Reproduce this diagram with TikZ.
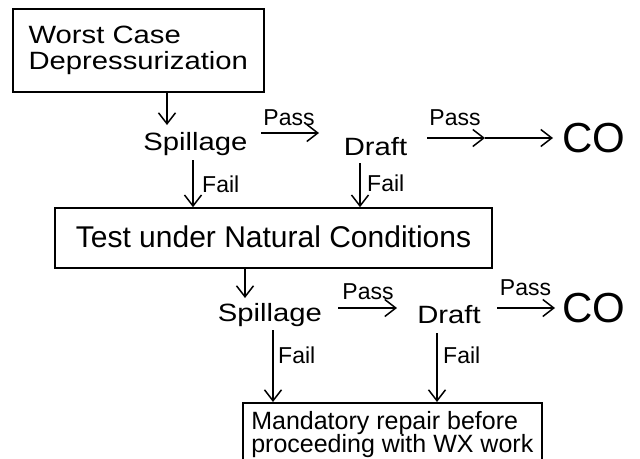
\documentclass[tikz,border=0pt]{standalone}
\usepackage{fontspec}
\setmainfont{Liberation Sans}
\newfontfamily\widefont[FakeStretch=1.17]{Liberation Sans}
\usetikzlibrary{arrows.meta,calc}
\begin{document}
\begin{tikzpicture}[x=1pt,y=-1pt,
  arr/.style={line width=1.5pt,-{Straight Barb[length=11pt,width=17pt,line width=1.5pt]}},
  box/.style={draw,line width=1.6pt,inner sep=0pt},
  lbl/.style={inner sep=0pt,anchor=base,font=\fontsize{23}{23}\selectfont},
  faillbl/.style={inner sep=0pt,anchor=base west,font=\fontsize{23}{23}\selectfont},
  word/.style={inner sep=0pt,anchor=base,font=\widefont\fontsize{25}{26}\selectfont},
  colbl/.style={inner sep=0pt,anchor=base,font=\fontsize{42}{42}\selectfont}]
\useasboundingbox (0,0) rectangle (640,458);
\clip (0,0) rectangle (640,458);
\fill[white] (0,0) rectangle (640,458);

% boxes
\node[box, anchor=north west, minimum width=251pt, minimum height=83pt, align=left,
      font=\widefont\fontsize{25}{26}\selectfont] (wc) at (12,8) {Worst Case\\Depressurization};
\node[box, minimum width=437pt, minimum height=60pt, text height=22pt, text depth=4pt,
      font=\fontsize{30}{30}\selectfont] (tn) at (273.5,238) {Test under Natural Conditions};
\node[box, anchor=north west, minimum width=299pt, inner xsep=8pt, inner ysep=8.5pt, align=left,
      font=\fontsize{25}{23.5}\selectfont] (mr) at (242,402) {Mandatory repair before\\proceeding with WX work};

% row 1
\node[word] (s1) at (195.5,150) {Spillage};
\node[word] (d1) at (375.5,155) {Draft};
\node[colbl] (co1) at (594,152) {CO};
\node[lbl] (p1) at (289,125) {Pass};
\node[lbl] (p2) at (455,125) {Pass};
\node[faillbl] (f1) at (202,192) {Fail};
\node[faillbl] (f2) at (367,191) {Fail};

% row 2
\node[word] (s2) at (270,321) {Spillage};
\node[word] (d2) at (449,323) {Draft};
\node[colbl] (co2) at (594,322) {CO};
\node[lbl] (p3) at (368,299) {Pass};
\node[lbl] (p4) at (525.5,295) {Pass};
\node[faillbl] (f3) at (278,363) {Fail};
\node[faillbl] (f4) at (443,363) {Fail};

\coordinate (m1) at (485,138);

% connectors
\draw[arr] ([xshift=155pt]wc.south west) -- ([shift={(-28.5,-25)}]s1.base);
\draw[arr] ([shift={(65.5,-17)}]s1.base) -- ([shift={(-56.5,-22)}]d1.base);
\draw[arr] ([shift={(51.5,-17)}]d1.base) -- (m1);
\draw[arr] (m1) -- ([shift={(-41,-14)}]co1.base);
\draw[arr] ([shift={(-2.5,10)}]s1.base) -- ([xshift=-80.5pt]tn.north);
\draw[arr] ([shift={(-15.5,8)}]d1.base) -- ([xshift=86.5pt]tn.north);
\draw[arr] ([xshift=-28.5pt]tn.south) -- ([shift={(-25,-23)}]s2.base);
\draw[arr] ([shift={(68,-13)}]s2.base) -- ([shift={(-52,-15)}]d2.base);
\draw[arr] ([shift={(48,-15)}]d2.base) -- ([shift={(-39,-14)}]co2.base);
\draw[arr] ([shift={(3,9)}]s2.base) -- ([xshift=31pt]mr.north west);
\draw[arr] ([shift={(-12,10)}]d2.base) -- ([xshift=195pt]mr.north west);
\end{tikzpicture}
\end{document}
